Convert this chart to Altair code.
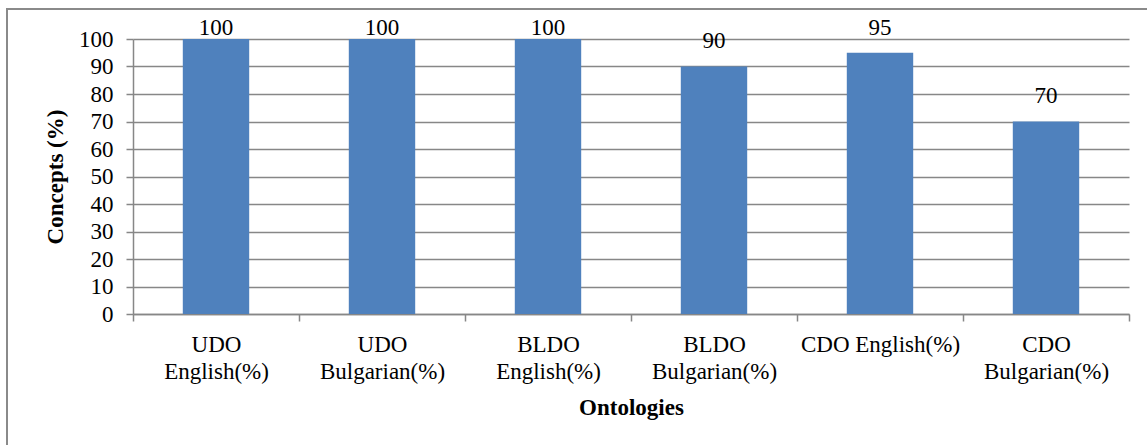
import altair as alt
import pandas as pd

categories = ["UDO|English(%)", "UDO|Bulgarian(%)", "BLDO|English(%)",
              "BLDO|Bulgarian(%)", "CDO English(%)", "CDO|Bulgarian(%)"]
values = [100, 100, 100, 90, 95, 70]
y_ticks = [0, 10, 20, 30, 40, 50, 60, 70, 80, 90, 100]

df = pd.DataFrame({"ontology": categories, "concepts": values})

FONT = "Liberation Serif"
FS = 23
GRAY = "#878787"
W, H = 996, 275

x_axis = alt.Axis(
    title="Ontologies",
    labelExpr="isValid(datum.value) ? split(datum.value, '|') : ''",
    labelAngle=0, labelFont=FONT, labelFontSize=FS, labelColor="#000000",
    labelLineHeight=27, labelPadding=12, labelBaseline="top",
    tickBand="extent", tickSize=7, tickColor=GRAY, domainColor=GRAY,
    domainWidth=1.5, tickWidth=1.5,
    titleFont=FONT, titleFontSize=FS, titleFontWeight="bold",
    titleColor="#000000", titleY=93, titleBaseline="middle",
)
y_axis = alt.Axis(
    values=y_ticks, title="Concepts (%)", grid=True, gridColor=GRAY,
    gridWidth=1.5, domainColor=GRAY, domainWidth=1.5, tickColor=GRAY,
    tickWidth=1.5, tickSize=7, labelFont=FONT, labelFontSize=FS,
    labelColor="#000000", labelPadding=13, labelOverlap=False,
    titleFont=FONT, titleFontSize=FS, titleFontWeight="bold",
    titleColor="#000000", titleX=-78, titleY=137.5,
    titleBaseline="middle", titleAngle=270, titleAlign="center",
)
x_scale = alt.Scale(paddingInner=0, paddingOuter=0)
y_scale = alt.Scale(domain=[0, 100], nice=False)

base = alt.Chart(df)

bars = base.mark_bar(color="#4F81BD", width=alt.RelativeBandSize(0.4)).encode(
    x=alt.X("ontology:N", sort=categories, scale=x_scale, axis=x_axis),
    y=alt.Y("concepts:Q", scale=y_scale, axis=y_axis),
)

labels = base.transform_calculate(
    ly="min(datum.concepts + 9.1, 104)"
).mark_text(font=FONT, fontSize=FS, baseline="middle", color="#000000").encode(
    x=alt.X("ontology:N", sort=categories, scale=x_scale, axis=x_axis),
    y=alt.Y("ly:Q", scale=y_scale, axis=y_axis),
    text=alt.Text("concepts:Q"),
)

frame = base.mark_rect(filled=False, stroke="#8a8a8a", strokeWidth=2).encode(
    x=alt.value(-126), x2=alt.value(W + 40),
    y=alt.value(-30), y2=alt.value(H + 150),
)

chart = alt.layer(bars, labels, frame).properties(
    width=W, height=H,
    autosize=alt.AutoSizeParams(type="none"),
    padding={"left": 133, "top": 39, "right": 18, "bottom": 131},
    background="#ffffff",
).configure_view(strokeWidth=0)

chart.save("out.html", embed_options={"renderer": "svg", "actions": False})
